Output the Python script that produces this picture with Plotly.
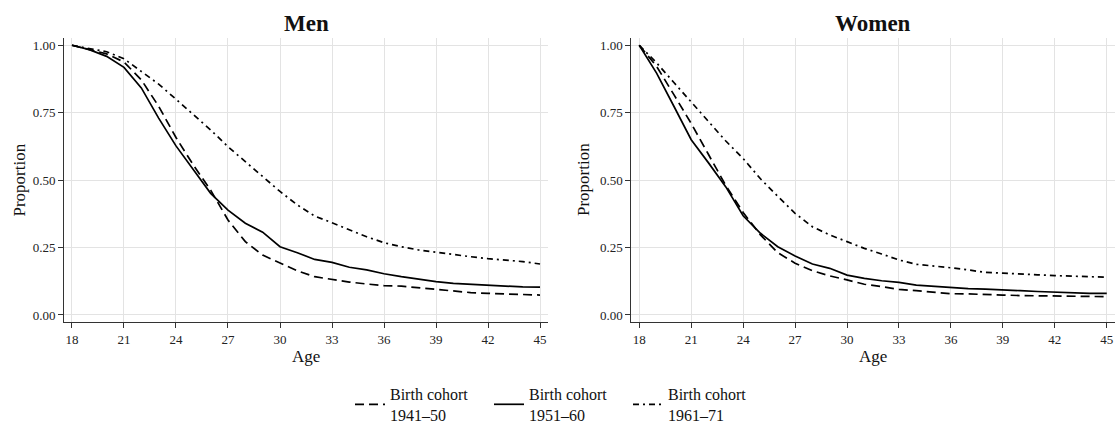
import plotly.graph_objects as go

ages = list(range(18, 46))

men_1941_50 = [1.000, 0.985, 0.968, 0.938, 0.872, 0.774, 0.658, 0.556, 0.463, 0.352, 0.272, 0.222, 0.192, 0.164,
               0.142, 0.132, 0.122, 0.115, 0.109, 0.107, 0.101, 0.093, 0.087, 0.083, 0.080, 0.078, 0.077, 0.074]
men_1951_60 = [1.000, 0.984, 0.959, 0.918, 0.842, 0.730, 0.627, 0.538, 0.451, 0.389, 0.340, 0.307, 0.253, 0.231,
               0.206, 0.195, 0.177, 0.167, 0.153, 0.142, 0.132, 0.124, 0.117, 0.114, 0.109, 0.106, 0.104, 0.103]
men_1961_71 = [1.000, 0.988, 0.976, 0.950, 0.903, 0.856, 0.800, 0.742, 0.686, 0.624, 0.568, 0.513, 0.458, 0.408,
               0.367, 0.342, 0.315, 0.290, 0.268, 0.253, 0.241, 0.232, 0.225, 0.216, 0.209, 0.204, 0.198, 0.189]

women_1941_50 = [1.000, 0.922, 0.817, 0.710, 0.595, 0.480, 0.380, 0.297, 0.231, 0.192, 0.164, 0.145, 0.130, 0.114,
                 0.105, 0.095, 0.090, 0.085, 0.079, 0.078, 0.075, 0.074, 0.072, 0.071, 0.070, 0.069, 0.068, 0.068]
women_1951_60 = [1.000, 0.897, 0.774, 0.650, 0.564, 0.475, 0.368, 0.303, 0.253, 0.219, 0.189, 0.173, 0.148, 0.136,
                 0.127, 0.121, 0.111, 0.106, 0.103, 0.098, 0.096, 0.094, 0.090, 0.087, 0.084, 0.082, 0.080, 0.080]
women_1961_71 = [1.000, 0.935, 0.862, 0.790, 0.718, 0.645, 0.580, 0.505, 0.440, 0.377, 0.327, 0.297, 0.272, 0.247,
                 0.226, 0.204, 0.188, 0.182, 0.175, 0.167, 0.158, 0.155, 0.151, 0.149, 0.146, 0.145, 0.142, 0.140]

cohort_labels = ["Birth cohort<br>1941–50", "Birth cohort<br>1951–60", "Birth cohort<br>1961–71"]
panel_titles = ["Men", "Women"]
x_ticks = [18, 21, 24, 27, 30, 33, 36, 39, 42, 45]
y_ticks = [0.0, 0.25, 0.5, 0.75, 1.0]
y_ticklabels = ["0.00", "0.25", "0.50", "0.75", "1.00"]

FONT = "Liberation Serif, Times New Roman, serif"
W, H = 1117, 426
dashes = ["9px,5px", "solid", "6px,4px,2px,4px"]

fig = go.Figure()

panels = [
    (men_1941_50, men_1951_60, men_1961_71),
    (women_1941_50, women_1951_60, women_1961_71),
]
for p, series in enumerate(panels):
    xa = "x" if p == 0 else "x2"
    ya = "y" if p == 0 else "y2"
    for i, vals in enumerate(series):
        fig.add_trace(go.Scatter(
            x=ages, y=vals, mode="lines", xaxis=xa, yaxis=ya,
            name=cohort_labels[i], showlegend=(p == 0),
            line=dict(color="#000000", width=1.7, dash=dashes[i]),
        ))

x_domains = [[64 / W, 548 / W], [631.3 / W, 1114.7 / W]]
y_domain = [1 - 322 / H, 1 - 38 / H]

common_x = dict(range=[17.54, 45.46], tickvals=x_ticks, showgrid=True, gridcolor="#e3e3e3", gridwidth=1,
                zeroline=False, showline=True, linecolor="#333333", linewidth=1, ticks="outside",
                ticklen=5, tickcolor="#333333", tickfont=dict(family=FONT, size=13, color="#222222"),
                automargin=False)
common_y = dict(range=[-0.026, 1.027], tickvals=y_ticks, ticktext=y_ticklabels, showgrid=True,
                gridcolor="#e3e3e3", gridwidth=1, zeroline=False, showline=True, linecolor="#333333",
                linewidth=1, ticks="outside", ticklen=5, tickcolor="#333333",
                tickfont=dict(family=FONT, size=13, color="#222222"), automargin=False)

fig.update_layout(
    width=W, height=H,
    margin=dict(l=0, r=0, t=0, b=0, autoexpand=False),
    paper_bgcolor="white", plot_bgcolor="white",
    font=dict(family=FONT, color="#111111"),
    xaxis=dict(domain=x_domains[0], anchor="y", **common_x),
    yaxis=dict(domain=y_domain, anchor="x", **common_y),
    xaxis2=dict(domain=x_domains[1], anchor="y2", **common_x),
    yaxis2=dict(domain=y_domain, anchor="x2", **common_y),
    legend=dict(orientation="h", x=0.5, xanchor="center", y=1 - 377 / H, yanchor="top",
                font=dict(family=FONT, size=16, color="#111111"), entrywidth=94, entrywidthmode="pixels",
                traceorder="normal", bgcolor="rgba(0,0,0,0)", tracegroupgap=0),
)

annotations = []
centers = [306 / W, 873 / W]
for p in range(2):
    annotations.append(dict(text=f"<b>{panel_titles[p]}</b>", x=centers[p], y=1 - 23 / H, xref="paper", yref="paper",
                            xanchor="center", yanchor="middle", showarrow=False,
                            font=dict(family=FONT, size=23, color="#111111")))
    annotations.append(dict(text="Age", x=centers[p], y=1 - 356 / H, xref="paper", yref="paper",
                            xanchor="center", yanchor="middle", showarrow=False,
                            font=dict(family=FONT, size=17, color="#111111")))
    annotations.append(dict(text="Proportion", x=(18.5 if p == 0 else 583) / W, y=1 - 180 / H, xref="paper",
                            yref="paper", xanchor="center", yanchor="middle", showarrow=False, textangle=-90,
                            font=dict(family=FONT, size=17, color="#111111")))
fig.update_layout(annotations=annotations)

fig.write_html("out.html")
